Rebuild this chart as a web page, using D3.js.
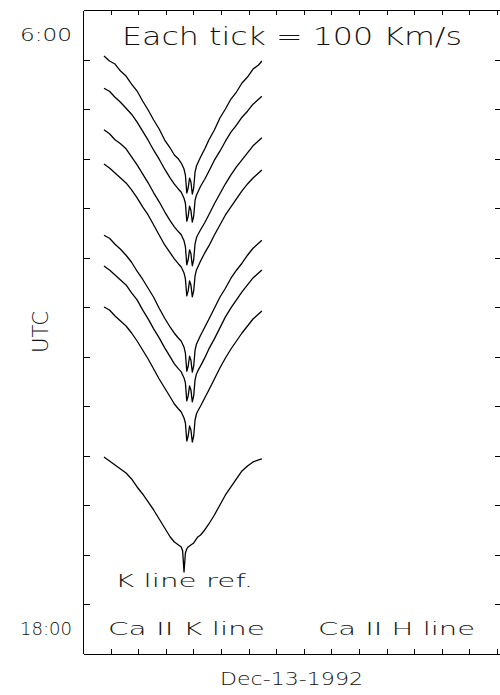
<!DOCTYPE html>
<html>
<head>
<meta charset="utf-8">
<script src="https://cdn.jsdelivr.net/npm/d3@7"></script>
<style>
  html, body { margin: 0; padding: 0; background: #fff; }
  svg { display: block; }
  .lbl { font-family: "DejaVu Sans", sans-serif; font-weight: 200; fill: #111; }
</style>
</head>
<body>
<script>
// Velocity grid (km/s, relative to the Ca II K rest position)
const velocity = [-290,-270,-250,-230,-210,-190,-170,-150,-130,-110,-90,-70,-50,-35,-20,-10,-5,
  0,5,10,15,20,25,30,35,40,45,50,60,75,90,110,130,150,170,190,210,230,250,270,282];

// Observation times (UT hours) of each spectrum
const obsTimes = [6.43, 7.08, 7.92, 8.61, 10.05, 10.67, 11.50];
const refTime = 14.53;

// Relative flux (arbitrary units) of each Ca II K profile
const flux1 = [160,155,152,145,140,132,125,115,106,96,87,76,68,61,57,53,50,47,41,23,28,38,34,22,28,44,50,53,59,67,76,86,98,107,117,124,133,139,147,151,155];
const flux2 = [160,157,151,146,140,134,126,117,108,98,89,79,70,64,59,56,53,50,45,27,32,42,38,26,32,48,53,56,62,69,77,88,97,107,116,123,131,137,144,149,152];
const flux3 = [160,156,150,146,141,133,125,116,107,97,88,78,69,63,58,55,52,49,43,25,30,40,36,24,30,46,52,55,60,67,75,86,96,106,115,123,130,137,144,149,152];
const flux4 = [160,156,151,146,141,134,126,117,109,99,89,79,71,65,60,57,54,51,45,28,33,43,39,27,33,48,54,57,63,71,78,89,99,109,117,125,133,140,146,151,154];
const flux5 = [160,157,151,146,140,133,124,116,107,98,87,77,68,62,57,54,51,48,42,24,29,39,35,23,29,45,51,54,60,68,76,87,98,107,117,125,132,140,147,152,155];
const flux6 = [160,156,151,146,141,133,126,116,107,97,88,78,69,62,57,54,51,48,43,25,30,40,36,24,30,46,52,55,60,68,77,87,98,109,118,126,134,141,148,153,156];
const flux7 = [160,157,151,146,141,134,126,117,108,98,88,79,70,63,58,55,52,49,44,26,31,41,37,25,31,47,53,56,61,69,77,88,99,109,118,126,134,141,148,153,156];
// Reference K line profile
const fluxRef = [160,156,152,148,144,138,130,123,115,107,98,89,80,75,72,70,66,45,64,68,70,71,72,73,74,76,78,80,82,87,93,102,112,122,130,138,146,151,155,157,158];

// Axis labels
const hourLabels = ["6:00", "18:00"];
const hourLabelValues = [6, 18];
const panelLabels = ["Ca II K line", "Ca II H line"];

const spectra = [flux1, flux2, flux3, flux4, flux5, flux6, flux7]
  .map((f, i) => ({ time: obsTimes[i], flux: f }))
  .concat([{ time: refTime, flux: fluxRef }]);

const W = 500, H = 695;
const frameL = 83, frameR = 502, frameT = 10, frameB = 653.5;

const svg = d3.select("body").append("svg")
  .attr("width", W).attr("height", H);

const x = d3.scaleLinear().domain([-366, 1152]).range([frameL, frameR]);
const y = d3.scaleLinear().domain([5.5, 18.5]).range([frameT, frameB]);
// flux -> vertical offset below the spectrum's time level
const off = d3.scaleLinear().domain([160, 0]).range([0, 160]);

const vTicks = d3.range(-266, 1135, 100);
const hTicks = d3.range(6.5, 18, 1);

function styleAxis(g) {
  g.selectAll("path, line").attr("stroke", "#000").attr("stroke-width", 1)
    .attr("shape-rendering", "crispEdges");
  g.selectAll("text").remove();
}

svg.append("g").attr("transform", `translate(0,${frameT})`)
  .call(d3.axisTop(x).tickValues(vTicks).tickSize(-5).tickSizeOuter(0).tickFormat(""))
  .call(styleAxis);
svg.append("g").attr("transform", `translate(0,${frameB})`)
  .call(d3.axisBottom(x).tickValues(vTicks).tickSize(-5).tickSizeOuter(0).tickFormat(""))
  .call(styleAxis);
svg.append("g").attr("transform", `translate(${frameL},0)`)
  .call(d3.axisLeft(y).tickValues(hTicks).tickSize(-7).tickSizeOuter(0).tickFormat(""))
  .call(styleAxis);
svg.append("g").attr("transform", `translate(${frameR},0)`)
  .call(d3.axisRight(y).tickValues(hTicks).tickSize(-7).tickSizeOuter(0).tickFormat(""))
  .call(styleAxis);

// spectra, each hung from its observation time
svg.append("g").selectAll("path").data(spectra).join("path")
  .attr("fill", "none")
  .attr("stroke", "#000")
  .attr("stroke-width", 1.3)
  .attr("stroke-linejoin", "round")
  .attr("d", s => d3.line()
    .x((d, i) => x(velocity[i]))
    .y(d => y(s.time) + off(d))(s.flux));

function label(txt, x0, base, size, len) {
  return svg.append("text").attr("class", "lbl")
    .attr("x", x0).attr("y", base)
    .attr("font-size", size)
    .attr("textLength", len).attr("lengthAdjust", "spacingAndGlyphs")
    .text(txt);
}

// hour labels on the left
hourLabels.forEach((t, i) => {
  label(t, 20, y(hourLabelValues[i]) + 6.5, 17.5, 52);
});

label("Each tick = 100 Km/s", 122, 45, 24.5, 340);
label(panelLabels[0], 108, 635, 17.5, 157);
label(panelLabels[1], 318, 635, 17.5, 157);
label("K line ref.", 115, 587, 17.5, 138);
label("Dec-13-1992", 220, 685, 17.5, 143);

svg.append("text").attr("class", "lbl")
  .attr("transform", "translate(48,353) rotate(-90)")
  .attr("font-size", 22)
  .attr("textLength", 42).attr("lengthAdjust", "spacingAndGlyphs")
  .text("UTC");
</script>
</body>
</html>
